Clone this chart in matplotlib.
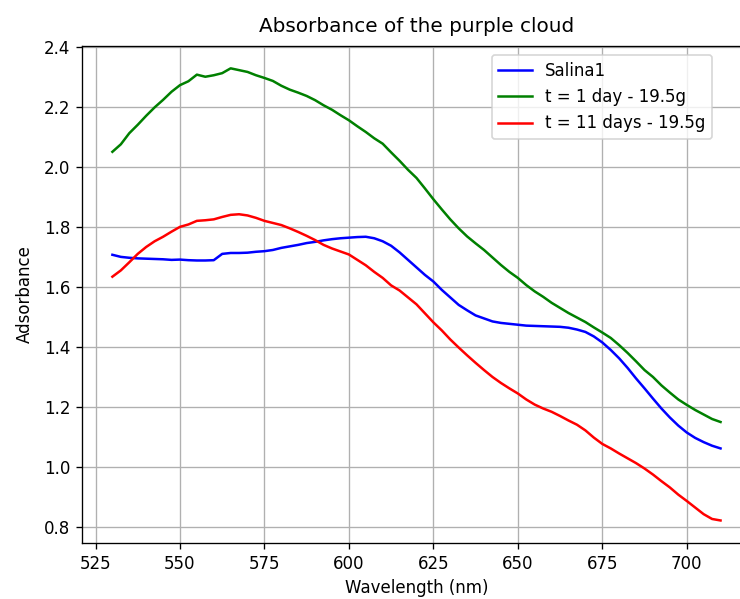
import numpy as np
import matplotlib
matplotlib.use("Agg")
from matplotlib import pyplot as plt

# wavelength grid (nm), 2.5 nm step
wavelength = np.arange(530, 710.01, 2.5)

salina1 = [
    1.707, 1.700, 1.697, 1.695, 1.694, 1.693, 1.692, 1.690, 1.691, 1.689,
    1.688, 1.688, 1.689, 1.710, 1.713, 1.713, 1.714, 1.717, 1.719, 1.723,
    1.730, 1.735, 1.740, 1.746, 1.750, 1.755, 1.759, 1.762, 1.764, 1.766,
    1.767, 1.762, 1.752, 1.737, 1.715, 1.690, 1.665, 1.640, 1.618, 1.590,
    1.565, 1.540, 1.522, 1.505, 1.495, 1.485, 1.480, 1.477, 1.474, 1.471,
    1.470, 1.469, 1.468, 1.467, 1.464, 1.458, 1.450, 1.435, 1.415, 1.390,
    1.362, 1.330, 1.295, 1.262, 1.228, 1.195, 1.165, 1.138, 1.115, 1.097,
    1.083, 1.071, 1.062,
]

day1 = [
    2.050, 2.075, 2.112, 2.140, 2.170, 2.198, 2.223, 2.250, 2.272, 2.285,
    2.307, 2.300, 2.305, 2.312, 2.328, 2.322, 2.316, 2.305, 2.296, 2.286,
    2.270, 2.257, 2.247, 2.236, 2.222, 2.205, 2.190, 2.172, 2.155, 2.135,
    2.116, 2.095, 2.077, 2.048, 2.020, 1.990, 1.963, 1.928, 1.892, 1.858,
    1.825, 1.795, 1.768, 1.745, 1.723, 1.698, 1.673, 1.650, 1.630, 1.606,
    1.585, 1.567, 1.547, 1.530, 1.513, 1.498, 1.483, 1.465, 1.448, 1.430,
    1.406, 1.380, 1.352, 1.323, 1.300, 1.272, 1.248, 1.225, 1.207, 1.190,
    1.175, 1.160, 1.150,
]

day11 = [
    1.634, 1.655, 1.682, 1.710, 1.733, 1.752, 1.767, 1.784, 1.800, 1.808,
    1.820, 1.822, 1.825, 1.833, 1.840, 1.842, 1.838, 1.830, 1.820, 1.813,
    1.806, 1.795, 1.783, 1.770, 1.756, 1.740, 1.728, 1.718, 1.708, 1.690,
    1.672, 1.650, 1.630, 1.605, 1.588, 1.565, 1.542, 1.512, 1.482, 1.455,
    1.425, 1.398, 1.372, 1.347, 1.323, 1.300, 1.280, 1.262, 1.245, 1.225,
    1.208, 1.195, 1.184, 1.170, 1.155, 1.141, 1.122, 1.098, 1.077, 1.062,
    1.045, 1.029, 1.013, 0.995, 0.975, 0.953, 0.932, 0.908, 0.887, 0.865,
    0.843, 0.827, 0.822,
]

fig = plt.figure(figsize=(740 / 120, 599 / 120), dpi=120)
ax = fig.add_axes([0.1108, 0.0935, 0.904, 0.830])

ax.plot(wavelength, salina1, color="blue", label="Salina1")
ax.plot(wavelength, day1, color="green", label="t = 1 day - 19.5g")
ax.plot(wavelength, day11, color="red", label="t = 11 days - 19.5g")

ax.set_xlim(521, 719)
ax.set_ylim(0.747, 2.403)
ax.set_xticks([525, 550, 575, 600, 625, 650, 675, 700])
ax.set_yticks([0.8, 1.0, 1.2, 1.4, 1.6, 1.8, 2.0, 2.2, 2.4])
ax.grid(True)
ax.spines["right"].set_visible(False)

ax.set_title("Absorbance of the purple cloud", pad=8)
ax.set_xlabel("Wavelength (nm)")
ax.set_ylabel("Adsorbance", labelpad=6)

fig.legend(loc="upper left", bbox_to_anchor=(0.6645, 0.908),
           bbox_transform=fig.transFigure, borderaxespad=0)

fig.savefig("out.png", dpi=120)
